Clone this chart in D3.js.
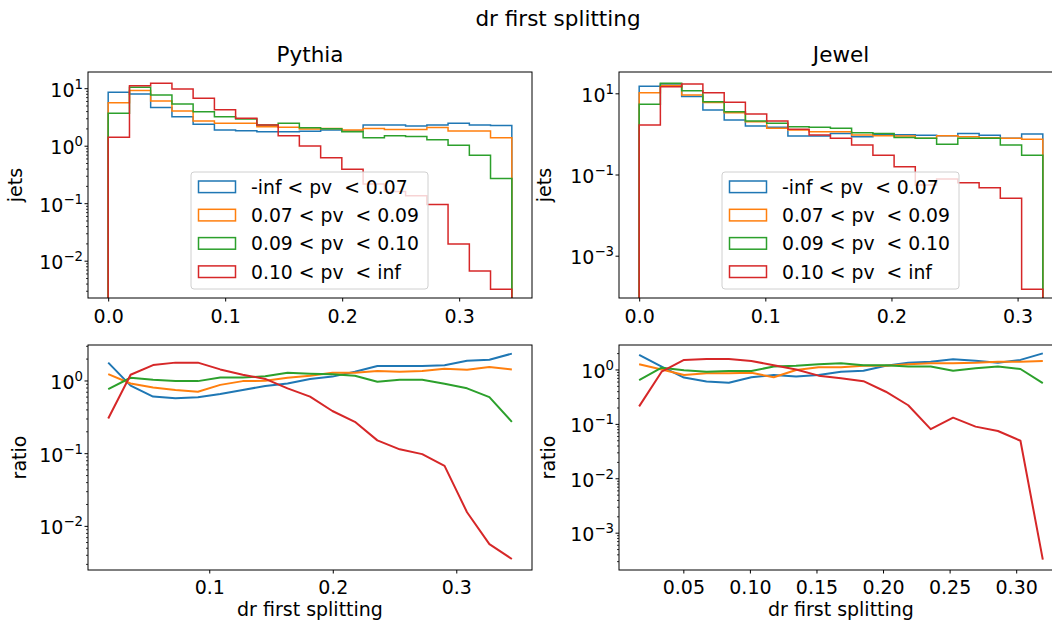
<!DOCTYPE html>
<html><head><meta charset="utf-8">
<script src="https://cdn.jsdelivr.net/npm/d3@7"></script>
<style>
body{margin:0;background:#fff;}
svg{display:block;font-family:"DejaVu Sans",sans-serif;}
text{white-space:pre;}
</style></head><body>
<svg id="chart" width="1052" height="624"></svg>
<script>
// ---------------- data ----------------
const seriesLabels = ["-inf < pv  < 0.07", "0.07 < pv  < 0.09", "0.09 < pv  < 0.10", "0.10 < pv  < inf"];

const pythiaEdges = [0, 0.0182, 0.0363, 0.0545, 0.0726, 0.0908, 0.1089, 0.1271, 0.1453, 0.1634,
  0.1816, 0.1997, 0.2179, 0.2361, 0.2542, 0.2724, 0.2905, 0.3087, 0.3268, 0.3450];
const jewelEdges = [0, 0.0168, 0.0337, 0.0505, 0.0674, 0.0842, 0.1011, 0.1179, 0.1347, 0.1516,
  0.1684, 0.1853, 0.2021, 0.2189, 0.2358, 0.2526, 0.2695, 0.2863, 0.3032, 0.3200];

// Pythia histograms (jets per bin)
const pythiaHistLow  = [8.5, 7.9, 4.6, 3.2, 2.36, 1.87, 1.82, 1.75, 1.75, 1.78, 1.87, 1.8, 2.3, 2.3, 2.2, 2.3, 2.45, 2.3, 2.25];
const pythiaHistMid1 = [5.6, 9.1, 6.0, 4.0, 2.7, 2.45, 2.45, 2.14, 2.1, 1.95, 2.0, 1.87, 2.0, 1.92, 1.92, 2.08, 1.8, 1.8, 1.38];
const pythiaHistMid2 = [3.66, 10.4, 7.6, 5.3, 3.9, 3.2, 2.9, 2.3, 2.45, 2.05, 1.98, 1.75, 1.38, 1.49, 1.44, 1.27, 1.02, 0.68, 0.27];
const pythiaHistHigh = [1.4, 11.0, 12.2, 9.7, 6.7, 4.2, 3.0, 2.3, 1.49, 0.99, 0.62, 0.39, 0.216, 0.16, 0.135, 0.095, 0.0195, 0.0066, 0.0032];

// Jewel histograms
const jewelHistLow  = [15, 17, 8.3, 3.9, 2.2, 1.57, 1.45, 0.89, 0.89, 1.02, 0.85, 0.98, 0.96, 0.93, 0.9, 1.03, 0.93, 0.78, 1.0];
const jewelHistMid1 = [10.3, 15.5, 9.1, 5.9, 3.3, 2.0, 1.37, 1.25, 1.13, 1.13, 0.94, 0.9, 0.89, 0.78, 0.9, 0.85, 0.8, 0.78, 0.74];
const jewelHistMid2 = [5.4, 17.6, 11.6, 6.2, 3.5, 2.07, 1.82, 1.5, 1.45, 1.37, 1.07, 1.03, 0.82, 0.78, 0.56, 0.78, 0.78, 0.53, 0.3];
const jewelHistHigh = [1.66, 14.5, 17, 10.3, 6.0, 3.1, 2.07, 1.3, 0.94, 0.78, 0.53, 0.3, 0.155, 0.055, 0.078, 0.063, 0.047, 0.026, 0.00015];

// Pythia ratios (at right bin edges)
const pythiaRatioLow  = [1.76, 0.85, 0.6, 0.57, 0.59, 0.65, 0.74, 0.84, 0.91, 1.05, 1.13, 1.32, 1.58, 1.58, 1.58, 1.62, 1.87, 1.93, 2.34];
const pythiaRatioMid1 = [1.22, 0.91, 0.8, 0.74, 0.70, 0.87, 0.98, 0.99, 1.09, 1.16, 1.28, 1.28, 1.35, 1.32, 1.35, 1.45, 1.4, 1.53, 1.42];
const pythiaRatioMid2 = [0.76, 1.09, 1.02, 0.98, 0.98, 1.1, 1.1, 1.14, 1.28, 1.24, 1.22, 1.16, 0.96, 1.02, 1.02, 0.9, 0.78, 0.59, 0.27];
const pythiaRatioHigh = [0.3, 1.2, 1.63, 1.76, 1.76, 1.42, 1.2, 1.05, 0.78, 0.6, 0.38, 0.27, 0.15, 0.113, 0.097, 0.067, 0.0154, 0.0056, 0.0035];

// Jewel ratios
const jewelRatioLow  = [1.85, 1.13, 0.71, 0.6, 0.57, 0.72, 0.79, 0.74, 0.79, 0.91, 0.95, 1.17, 1.33, 1.39, 1.54, 1.45, 1.33, 1.5, 1.98];
const jewelRatioMid1 = [1.25, 1.0, 0.79, 0.85, 0.85, 0.87, 0.72, 0.98, 1.1, 1.1, 1.17, 1.17, 1.25, 1.3, 1.3, 1.33, 1.39, 1.39, 1.43];
const jewelRatioMid2 = [0.64, 1.08, 0.97, 0.91, 0.94, 0.94, 1.13, 1.17, 1.25, 1.3, 1.2, 1.2, 1.13, 1.13, 0.95, 1.05, 1.13, 1.02, 0.56];
const jewelRatioHigh = [0.21, 0.91, 1.5, 1.56, 1.56, 1.43, 1.2, 1.0, 0.77, 0.69, 0.61, 0.39, 0.22, 0.08, 0.13, 0.089, 0.074, 0.049, 0.00032];

const topXTicks = [0.0, 0.1, 0.2, 0.3];
const pythiaRatioXTicks = [0.1, 0.2, 0.3];
const jewelRatioXTicks = [0.05, 0.10, 0.15, 0.20, 0.25, 0.30];

// ---------------- style ----------------
const colors = ["#1f77b4", "#ff7f0e", "#2ca02c", "#d62728"];
const FS = 19;
const svg = d3.select("#chart");
let clipId = 0;

function logMinor(domain) {
  const out = [];
  const lo = Math.floor(Math.log10(domain[0])), hi = Math.ceil(Math.log10(domain[1]));
  for (let e = lo; e <= hi; e++) for (let m = 2; m <= 9; m++) {
    const v = m * Math.pow(10, e);
    if (v >= domain[0] && v <= domain[1]) out.push(v);
  }
  return out;
}

function panel(cfg) {
  const {x0, y0, w, h} = cfg;
  const x = d3.scaleLinear().domain(cfg.xDomain).range([x0, x0 + w]);
  const y = d3.scaleLog().domain(cfg.yDomain).range([y0 + h, y0]);
  const id = "clip" + (clipId++);
  svg.append("clipPath").attr("id", id).append("rect")
    .attr("x", x0).attr("y", y0).attr("width", w).attr("height", h);
  const plot = svg.append("g").attr("clip-path", `url(#${id})`);

  // x axis
  const gx = svg.append("g").attr("transform", `translate(0,${y0 + h})`)
    .call(d3.axisBottom(x).tickValues(cfg.xTicks).tickFormat(cfg.xFmt).tickSize(3.5).tickPadding(cfg.xPad).tickSizeOuter(0));
  gx.select(".domain").remove();
  gx.selectAll("line").attr("stroke", "#000").attr("stroke-width", 1);
  gx.selectAll("text").attr("font-size", FS).attr("font-family", '"DejaVu Sans"').attr("fill", "#000");

  // y axis minor
  if (cfg.minor) {
    const gm = svg.append("g").attr("transform", `translate(${x0},0)`)
      .call(d3.axisLeft(y).tickValues(logMinor(cfg.yDomain)).tickFormat("").tickSize(2).tickSizeOuter(0));
    gm.select(".domain").remove();
    gm.selectAll("line").attr("stroke", "#000").attr("stroke-width", 0.8);
  }
  // y axis major
  const gy = svg.append("g").attr("transform", `translate(${x0},0)`)
    .call(d3.axisLeft(y).tickValues(cfg.yMajor).tickFormat(() => "").tickSize(3.5).tickPadding(1.5).tickSizeOuter(0));
  gy.select(".domain").remove();
  gy.selectAll("line").attr("stroke", "#000").attr("stroke-width", 1);
  gy.selectAll(".tick text").each(function (d) {
    const t = d3.select(this);
    const e = Math.round(Math.log10(d));
    t.text(null).attr("dy", "0.42em").attr("font-size", FS).attr("font-family", '"DejaVu Sans"').attr("fill", "#000");
    t.append("tspan").text("10");
    t.append("tspan").attr("dy", -8).attr("font-size", 13.3).text(e < 0 ? "\u2212" + (-e) : String(e));
  });

  // frame
  svg.append("rect").attr("x", x0).attr("y", y0).attr("width", w).attr("height", h)
    .attr("fill", "none").attr("stroke", "#000").attr("stroke-width", 1);

  // y label
  svg.append("text").attr("transform", `translate(${cfg.ylabX},${y0 + h / 2}) rotate(-90)`)
    .attr("text-anchor", "middle").attr("font-size", FS).text(cfg.ylabel);
  return {x, y, plot};
}

function histPanel(cfg, edges, series) {
  const p = panel(cfg);
  const bottomVal = cfg.yDomain[0] / 10;
  series.forEach((vals, i) => {
    const pts = [[edges[0], bottomVal]];
    vals.forEach((v, k) => { pts.push([edges[k], v]); pts.push([edges[k + 1], v]); });
    pts.push([edges[edges.length - 1], bottomVal]);
    p.plot.append("path").datum(pts)
      .attr("d", d3.line().x(d => p.x(d[0])).y(d => p.y(d[1])))
      .attr("fill", "none").attr("stroke", colors[i]).attr("stroke-width", 1.5)
      .attr("stroke-linejoin", "miter");
  });
  // legend
  const lx = cfg.x0 + 103, ly = cfg.y0 + 100;
  const lg = svg.append("g");
  lg.append("rect").attr("x", lx).attr("y", ly).attr("width", 237).attr("height", 117).attr("rx", 3)
    .attr("fill", "#fff").attr("fill-opacity", 0.8).attr("stroke", "#d0d0d0").attr("stroke-width", 1);
  seriesLabels.forEach((lab, i) => {
    const cy = ly + 14.8 + i * 28.3;
    lg.append("rect").attr("x", lx + 7.5).attr("y", cy - 5.8).attr("width", 37).attr("height", 11.6)
      .attr("fill", "none").attr("stroke", colors[i]).attr("stroke-width", 1.5);
    lg.append("text").attr("x", lx + 60).attr("y", cy + 6.8).attr("font-size", 18.8).text(lab);
  });
  return p;
}

function ratioPanel(cfg, xs, series) {
  const p = panel(cfg);
  series.forEach((vals, i) => {
    p.plot.append("path").datum(vals)
      .attr("d", d3.line().x((d, k) => p.x(xs[k])).y(d => p.y(d)))
      .attr("fill", "none").attr("stroke", colors[i]).attr("stroke-width", 2)
      .attr("stroke-linejoin", "round");
  });
  return p;
}

const P = Math.pow;
// Top-left: Pythia histogram
histPanel({x0: 88, y0: 72, w: 444, h: 226, xDomain: [-0.01725, 0.36225],
  yDomain: [P(10, -2.649), P(10, 1.282)], xTicks: topXTicks, xFmt: d3.format(".1f"), xPad: 8,
  yMajor: [1e-2, 1e-1, 1, 10], minor: true, ylabel: "jets", ylabX: 21.5},
  pythiaEdges, [pythiaHistLow, pythiaHistMid1, pythiaHistMid2, pythiaHistHigh]);

// Top-right: Jewel histogram
histPanel({x0: 619, y0: 72, w: 444, h: 226, xDomain: [-0.016, 0.336],
  yDomain: [P(10, -4.042), P(10, 1.525)], xTicks: topXTicks, xFmt: d3.format(".1f"), xPad: 8,
  yMajor: [1e-3, 1e-1, 10], minor: false, ylabel: "jets", ylabX: 551},
  jewelEdges, [jewelHistLow, jewelHistMid1, jewelHistMid2, jewelHistHigh]);

// Bottom-left: Pythia ratio
ratioPanel({x0: 88, y0: 345, w: 444, h: 225, xDomain: [0.00182, 0.3613],
  yDomain: [P(10, -2.607), P(10, 0.488)], xTicks: pythiaRatioXTicks, xFmt: d3.format(".1f"), xPad: 7,
  yMajor: [1e-2, 1e-1, 1], minor: true, ylabel: "ratio", ylabX: 26},
  pythiaEdges.slice(1), [pythiaRatioLow, pythiaRatioMid1, pythiaRatioMid2, pythiaRatioHigh]);

// Bottom-right: Jewel ratio
ratioPanel({x0: 619, y0: 345, w: 444, h: 225, xDomain: [0.00168, 0.33516],
  yDomain: [P(10, -3.686), P(10, 0.45)], xTicks: jewelRatioXTicks, xFmt: d3.format(".2f"), xPad: 7,
  yMajor: [1e-3, 1e-2, 1e-1, 1], minor: true, ylabel: "ratio", ylabX: 555},
  jewelEdges.slice(1), [jewelRatioLow, jewelRatioMid1, jewelRatioMid2, jewelRatioHigh]);

// titles
svg.append("text").attr("x", 558).attr("y", 26).attr("text-anchor", "middle").attr("font-size", 21.5).text("dr first splitting");
svg.append("text").attr("x", 310).attr("y", 62).attr("text-anchor", "middle").attr("font-size", 21.5).text("Pythia");
svg.append("text").attr("x", 841).attr("y", 62).attr("text-anchor", "middle").attr("font-size", 21.5).text("Jewel");
svg.append("text").attr("x", 310).attr("y", 616).attr("text-anchor", "middle").attr("font-size", FS).text("dr first splitting");
svg.append("text").attr("x", 841).attr("y", 616).attr("text-anchor", "middle").attr("font-size", FS).text("dr first splitting");
</script>
</body></html>
